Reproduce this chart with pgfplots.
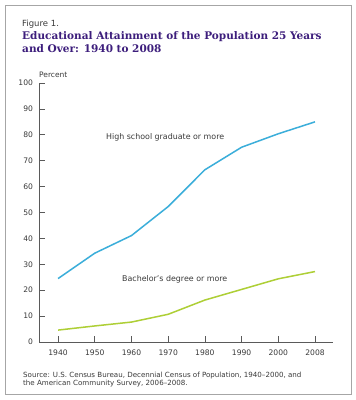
\documentclass[border=0pt]{standalone}
\usepackage{pgfplots}
\pgfplotsset{compat=1.18}
\usepackage{fontspec}
\setmainfont{DejaVu Sans}
\newfontfamily\titlefont{DejaVu Serif}
\definecolor{hsblue}{HTML}{3BAEDA}
\definecolor{bagreen}{HTML}{AECF36}
\definecolor{titlepurple}{HTML}{3D1E7C}
\definecolor{txtgray}{HTML}{3A3A3A}
\definecolor{axgray}{HTML}{5A5A5A}
\begin{document}
\begin{tikzpicture}
\useasboundingbox (0pt,0pt) rectangle (356pt,-400pt);
\fill[white] (0pt,0pt) rectangle (356pt,-400pt);
\draw[gray!70, line width=1pt] (5pt,-5pt) rectangle (351pt,-394pt);
\node[anchor=base west, inner sep=0pt, text=txtgray, font=\fontsize{8.5}{10}\selectfont] at (22pt,-26pt) {Figure 1.};
\node[anchor=base west, inner sep=0pt, text=titlepurple, font=\titlefont\bfseries\fontsize{10.5}{13}\selectfont] at (22pt,-39pt) {Educational Attainment of the Population 25 Years};
\node[anchor=base west, inner sep=0pt, text=titlepurple, font=\titlefont\bfseries\fontsize{10.5}{13}\selectfont] at (22pt,-52pt) {and Over: 1940 to 2008};
\node[anchor=base west, inner sep=0pt, text=txtgray, font=\fontsize{7.5}{8}\selectfont] at (39pt,-77pt) {Percent};
\begin{axis}[
  at={(39pt,-342pt)}, anchor=south west,
  scale only axis, width=294pt, height=259pt,
  xmin=-0.52, xmax=7.49, ymin=0, ymax=100,
  axis lines=left,
  axis line style={draw=axgray, line width=0.9pt, -},
  xtick={0,...,7},
  xticklabels={1940,1950,1960,1970,1980,1990,2000,2008},
  ytick={0,10,...,100},
  tick align=inside,
  major tick length=6pt,
  tick style={draw=axgray, line width=0.8pt},
  /pgf/number format/assume math mode=true,
  tick label style={font=\fontsize{7.6}{9}\selectfont, text=txtgray},
  yticklabel style={xshift=-2.5pt},
  xticklabel style={yshift=-4pt},
  clip=false,
]
\addplot[hsblue, line width=1.5pt] coordinates {(0,24.5) (1,34.3) (2,41.1) (3,52.3) (4,66.5) (5,75.2) (6,80.4) (7,85.0)};
\addplot[bagreen, line width=1.5pt] coordinates {(0,4.6) (1,6.2) (2,7.7) (3,10.7) (4,16.2) (5,20.3) (6,24.4) (7,27.2)};
\end{axis}
\node[anchor=base west, inner sep=0pt, text=txtgray, font=\fontsize{7.9}{9}\selectfont] at (106pt,-139pt) {High school graduate or more};
\node[anchor=base west, inner sep=0pt, text=txtgray, font=\fontsize{7.9}{9}\selectfont] at (122pt,-281pt) {Bachelor's degree or more};
\node[anchor=base west, inner sep=0pt, text=txtgray, font=\fontsize{7.1}{8}\selectfont] at (23pt,-377pt) {Source: U.S. Census Bureau, Decennial Census of Population, 1940--2000, and};
\node[anchor=base west, inner sep=0pt, text=txtgray, font=\fontsize{7.1}{8}\selectfont] at (23pt,-385.5pt) {the American Community Survey, 2006--2008.};
\end{tikzpicture}
\end{document}
